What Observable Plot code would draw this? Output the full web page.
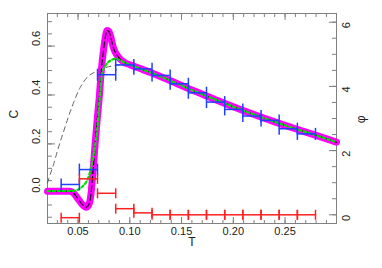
<!DOCTYPE html>
<html><head><meta charset="utf-8">
<script src="https://cdn.jsdelivr.net/npm/d3@7"></script>
<script src="https://cdn.jsdelivr.net/npm/@observablehq/plot@0.6"></script>
<style>body{margin:0;background:#fff;}</style>
</head><body><div id="chart"></div>
<script>
// ---- data ----
const binEdges = [0.0337, 0.0513, 0.0688, 0.0864, 0.1039, 0.1215, 0.1390, 0.1566, 0.1741, 0.1917, 0.2092, 0.2268, 0.2443, 0.2619, 0.2794];
const blueC   = [0.034, 0.095, 0.483, 0.523, 0.507, 0.480, 0.446, 0.409, 0.371, 0.341, 0.314, 0.296, 0.262, 0.241];
const redPhi  = [-0.09, 1.12, 0.67, 0.19, 0.06, 0, 0, 0, 0, 0, 0, 0, 0, 0];

const magentaT = [0.0205, 0.035, 0.042, 0.046, 0.050, 0.054, 0.058, 0.0605, 0.0625, 0.0645, 0.0665, 0.0685, 0.0705, 0.0725, 0.0745, 0.0765, 0.0782, 0.0798, 0.0814, 0.083, 0.0845, 0.0878, 0.0942, 0.100, 0.110, 0.120, 0.140, 0.160, 0.180, 0.200, 0.220, 0.240, 0.260, 0.280, 0.2997];
const magentaC = [0.0065, 0.0065, 0.006, -0.003, -0.025, -0.047, -0.059, -0.048, -0.005, 0.09, 0.20, 0.30, 0.39, 0.50, 0.58, 0.64, 0.664, 0.66, 0.64, 0.612, 0.589, 0.562, 0.534, 0.524, 0.508, 0.492, 0.457, 0.420, 0.386, 0.352, 0.320, 0.290, 0.262, 0.235, 0.207];

const greenT = [0.0205, 0.045, 0.050, 0.054, 0.058, 0.0605, 0.063, 0.0652, 0.067, 0.0685, 0.0702, 0.0717, 0.0733, 0.0765, 0.0814, 0.0862, 0.0942, 0.100, 0.110, 0.120, 0.140, 0.160, 0.180, 0.200, 0.220, 0.240, 0.260, 0.280, 0.2997];
const greenC = [0.007, 0.008, 0.013, 0.025, 0.045, 0.07, 0.11, 0.16, 0.21, 0.26, 0.35, 0.43, 0.49, 0.52, 0.541, 0.548, 0.534, 0.524, 0.508, 0.492, 0.457, 0.420, 0.386, 0.352, 0.320, 0.290, 0.262, 0.235, 0.207];

const greyT = [0.0205, 0.0217, 0.0266, 0.030, 0.036, 0.044, 0.052, 0.059, 0.067, 0.075, 0.082, 0.090, 0.100];
const greyC = [0.040, 0.057, 0.119, 0.170, 0.250, 0.350, 0.430, 0.473, 0.495, 0.510, 0.518, 0.523, 0.524];

const xLabelTicks = [0.05, 0.10, 0.15, 0.20, 0.25];
const xMinorTicks = d3.range(3, 30).map(i => i / 100);
const cLabelTicks = [0.0, 0.2, 0.4, 0.6];
const cMinorTicks = d3.range(-2, 15).map(i => i * 0.05);
const phiLabelTicks = [0, 2, 4, 6];
const phiMinorTicks = d3.range(0, 13).map(i => i * 0.5);

// right axis (phi) expressed in C units
const PHI_OFFSET = -0.09, PHI_SCALE = 0.13129;
const phiToC = p => PHI_OFFSET + PHI_SCALE * p;

// ---- derived tables ----
const magenta = magentaT.map((t, i) => ({T: t, C: magentaC[i]}));
const green = greenT.map((t, i) => ({T: t, C: greenC[i]}));
const grey = greyT.map((t, i) => ({T: t, C: greyC[i]}));
const blueBins = blueC.map((c, i) => ({lo: binEdges[i], hi: binEdges[i + 1], c}));
const redBins = redPhi.map((p, i) => ({lo: binEdges[i], hi: binEdges[i + 1], c: phiToC(p)}));
const caps = bins => bins.flatMap(b => [{x: b.lo, y: b.c}, {x: b.hi, y: b.c}]);

const vbar = {draw(ctx, size) { const h = Math.sqrt(size / Math.PI); ctx.moveTo(0, -h); ctx.lineTo(0, h); }};

const W = 382, H = 268, ML = 47, MR = 46, MT = 13, MB = 45;
const IW = W - ML - MR, IH = H - MT - MB;
const AX = "#808080";
const TXT = "#222";
const fmt2 = d => d3.format(".2f")(d);
const fmt1 = d => d3.format(".1f")(d);

const chart = Plot.plot({
  width: W, height: H,
  marginLeft: ML, marginRight: MR, marginTop: MT, marginBottom: MB,
  style: {fontFamily: "'Liberation Sans', Arial, sans-serif", fontSize: "11px", background: "#fff"},
  x: {domain: [0.0205, 0.2997]},
  y: {domain: [-0.1256, 0.7333]},
  marks: [
    Plot.frame({stroke: AX}),
    // inward ticks: bottom
    Plot.axisX(xMinorTicks, {anchor: "top", tickSize: 4, tickFormat: () => "", label: null, dy: IH, stroke: AX}),
    Plot.axisX(xLabelTicks, {anchor: "top", tickSize: 7, tickFormat: () => "", label: null, dy: IH, stroke: AX}),
    // top
    Plot.axisX(xMinorTicks, {anchor: "bottom", tickSize: 4, tickFormat: () => "", label: null, dy: -IH, stroke: AX}),
    Plot.axisX(xLabelTicks, {anchor: "bottom", tickSize: 7, tickFormat: () => "", label: null, dy: -IH, stroke: AX}),
    // left
    Plot.axisY(cMinorTicks, {anchor: "right", tickSize: 4, tickFormat: () => "", label: null, dx: -IW, stroke: AX}),
    Plot.axisY(cLabelTicks, {anchor: "right", tickSize: 7, tickFormat: () => "", label: null, dx: -IW, stroke: AX}),
    // right (phi)
    Plot.axisY(phiMinorTicks.map(phiToC), {anchor: "left", tickSize: 4, tickFormat: () => "", label: null, dx: IW, stroke: AX}),
    Plot.axisY(phiLabelTicks.map(phiToC), {anchor: "left", tickSize: 7, tickFormat: () => "", label: null, dx: IW, stroke: AX}),

    // tick labels
    Plot.text(xLabelTicks, {x: d => d, text: fmt2, frameAnchor: "bottom", dy: 11, fill: TXT, fontSize: 11}),
    Plot.text(cLabelTicks, {y: d => d, text: fmt1, frameAnchor: "left", dx: -11, rotate: -90, fill: TXT, fontSize: 11}),
    Plot.text(phiLabelTicks, {y: d => phiToC(d), text: d => String(d), frameAnchor: "right", dx: 10, rotate: -90, fill: TXT, fontSize: 11}),
    // axis titles
    Plot.text(["T"], {text: d => d, frameAnchor: "bottom", dy: 22, fill: TXT, fontSize: 12}),
    Plot.text(["C"], {text: d => d, frameAnchor: "left", dx: -33, rotate: -90, fill: TXT, fontSize: 12}),
    Plot.text(["φ"], {text: d => d, frameAnchor: "right", dx: 25, dy: -3, rotate: -90, fill: TXT, fontSize: 12}),

    // curves
    Plot.line(grey, {x: "T", y: "C", stroke: "#555", strokeWidth: 0.9, strokeDasharray: "5,4", curve: "monotone-x"}),
    Plot.line(magenta, {x: "T", y: "C", stroke: "#ff00ff", strokeWidth: 7, curve: "monotone-x", strokeLinecap: "round", strokeLinejoin: "round"}),
    Plot.line(magenta, {x: "T", y: "C", stroke: "#000", strokeWidth: 1.1, strokeDasharray: "6,3", curve: "monotone-x"}),
    Plot.line(green, {x: "T", y: "C", stroke: "#00e000", strokeWidth: 2.2, strokeDasharray: "2.5,2.5", curve: "monotone-x"}),

    // blue bins
    Plot.ruleY(blueBins, {x1: "lo", x2: "hi", y: "c", stroke: "#2040ff", strokeWidth: 1.5}),
    Plot.dot(caps(blueBins), {x: "x", y: "y", symbol: vbar, r: 6, stroke: "#2040ff", fill: "none", strokeWidth: 1.5}),
    // red bins
    Plot.ruleY(redBins, {x1: "lo", x2: "hi", y: "c", stroke: "#ff2020", strokeWidth: 1.5}),
    Plot.dot(caps(redBins), {x: "x", y: "y", symbol: vbar, r: 5, stroke: "#ff2020", fill: "none", strokeWidth: 1.5})
  ]
});
document.getElementById("chart").appendChild(chart);
</script>
</body></html>
